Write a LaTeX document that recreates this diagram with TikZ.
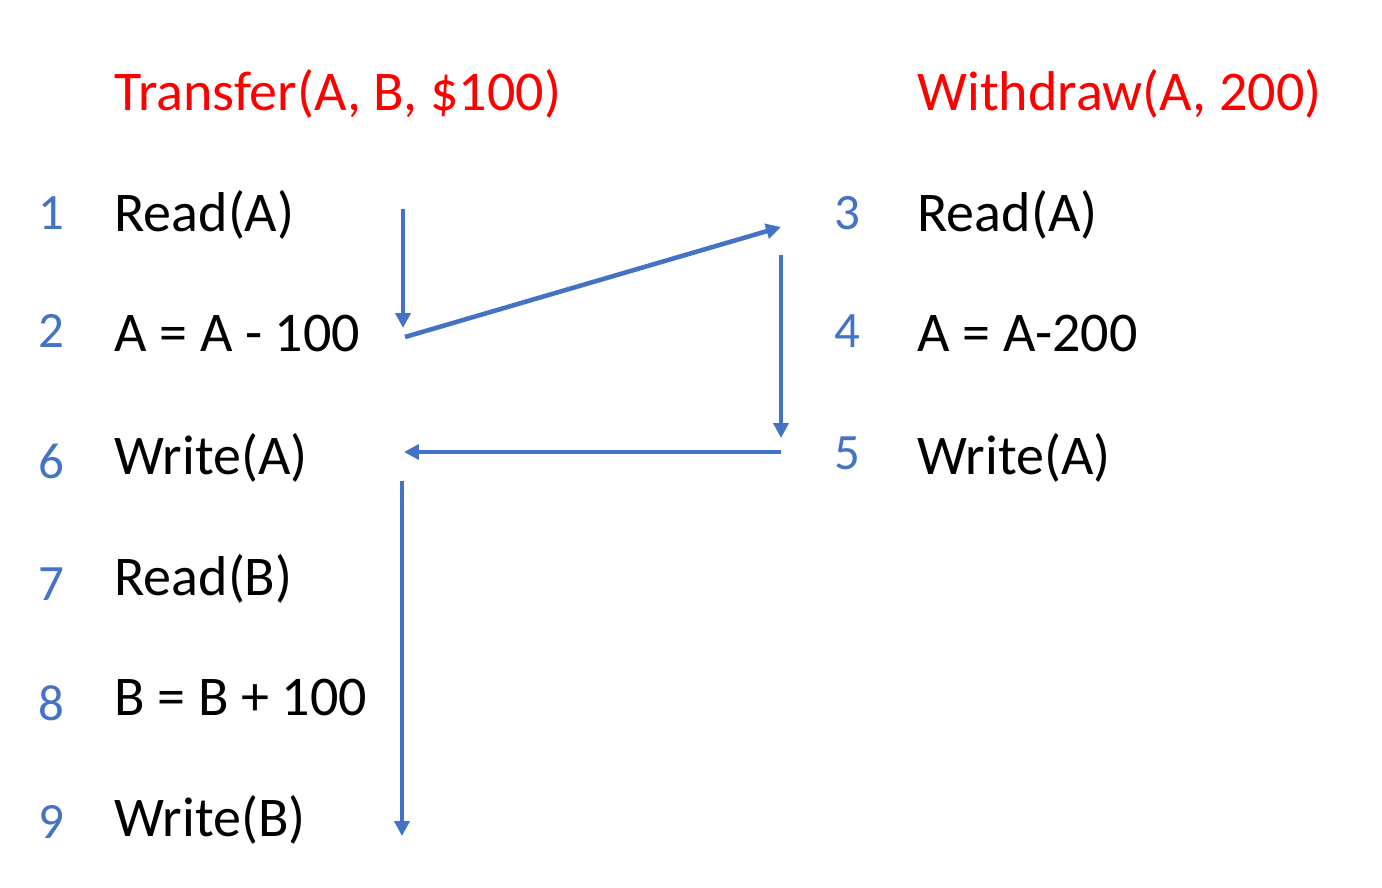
\documentclass[tikz,border=0pt]{standalone}
\usepackage{fontspec}
\setmainfont{Carlito}
\usetikzlibrary{arrows.meta}
\definecolor{stepblue}{RGB}{68,114,196}
\definecolor{titlered}{RGB}{255,0,0}

\begin{document}
\begin{tikzpicture}[x=0.02cm, y=-0.02cm,
    op/.style={anchor=base west, inner sep=0pt, font=\fontsize{31.9}{32}\selectfont},
    num/.style={anchor=base west, inner sep=0pt, text=stepblue, font=\fontsize{29}{29}\selectfont},
    ttl/.style={op, text=titlered},
    flow/.style={stepblue, line width=2.6pt, -{Triangle[length=8.5pt, width=8.5pt]}}]
    \useasboundingbox (0,0) rectangle (1382,888);
    \def\lx{114}
    \def\rx{917}

    % --- Titles ---
    \node[ttl] (tleft)  at (\lx, 111) {Transfer(A, B, \$100)};
    \node[ttl] (tright) at (\rx, 111) {Withdraw(A, 200)};

    % --- Left: transfer steps ---
    \node[op] (readA)  at (\lx, 232) {Read(A)};
    \node[op] (subA)   at (\lx, 352) {A = A - 100};
    \node[op] (writeA) at (\lx, 474) {Write(A)};
    \node[op] (readB)  at (\lx, 595) {Read(B)};
    \node[op] (addB)   at (\lx, 715) {B = B + 100};
    \node[op] (writeB) at (\lx, 836) {Write(B)};

    \node[num] (n1) at (38, 230) {1};
    \node[num] (n2) at (38, 348) {2};
    \node[num] (n6) at (38, 478) {6};
    \node[num] (n7) at (38, 600) {7};
    \node[num] (n8) at (38, 720) {8};
    \node[num] (n9) at (38, 838) {9};

    % --- Right: withdraw steps ---
    \node[op] (wreadA)  at (\rx, 232) {Read(A)};
    \node[op] (wsubA)   at (\rx, 352) {A = A-200};
    \node[op] (wwriteA) at (\rx, 474) {Write(A)};

    \node[num] (n3) at (834, 230) {3};
    \node[num] (n4) at (834, 348) {4};
    \node[num] (n5) at (834, 469) {5};

    % --- Execution order ---
    \coordinate (s1) at (403, 209);
    \coordinate (e1) at (403, 328);
    \coordinate (s2) at (405, 337);
    \coordinate (e2) at (781, 227);
    \coordinate (s3) at (781, 255);
    \coordinate (e3) at (781, 438);
    \coordinate (s4) at (781, 452);
    \coordinate (e4) at (404, 452);
    \coordinate (s5) at (402, 481);
    \coordinate (e5) at (402, 836);

    \draw[flow] (s1) -- (e1);
    \draw[flow] (s2) -- (e2);
    \draw[flow] (s3) -- (e3);
    \draw[flow] (s4) -- (e4);
    \draw[flow] (s5) -- (e5);
\end{tikzpicture}
\end{document}
